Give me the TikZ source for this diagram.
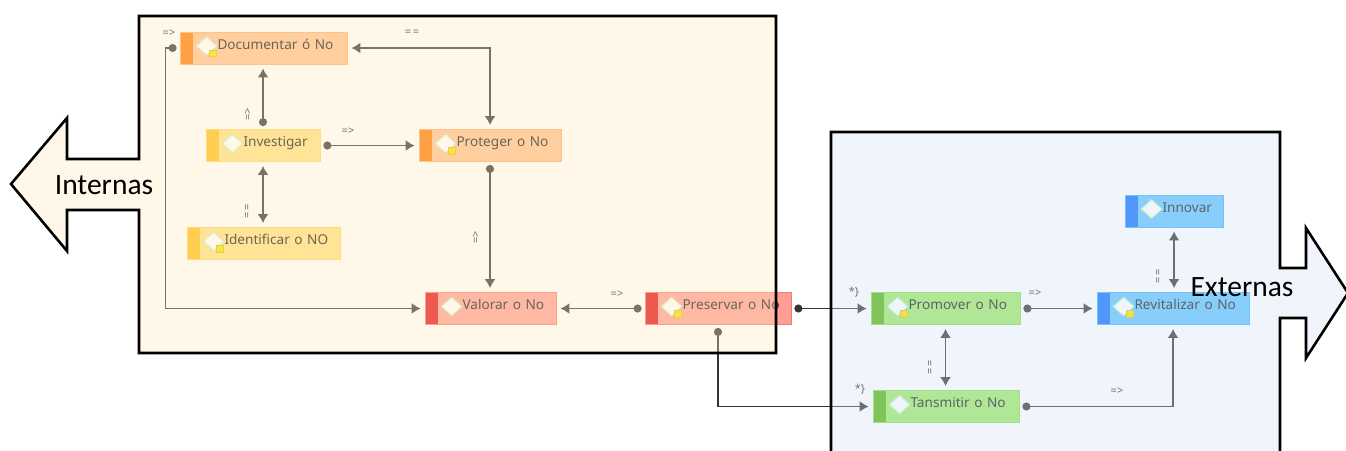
\documentclass[tikz,border=0pt]{standalone}
\usepackage{fontspec}
\setmainfont{Carlito}
\newfontfamily\boxfont{Noto Sans}
\usetikzlibrary{arrows.meta,shapes.geometric}
\definecolor{orstripe}{HTML}{FF7804}
\definecolor{orfill}{HTML}{FFC08E}
\definecolor{yestripe}{HTML}{FFBD13}
\definecolor{yefill}{HTML}{FFE07F}
\definecolor{restripe}{HTML}{E10C13}
\definecolor{refill}{HTML}{FF9E95}
\definecolor{grstripe}{HTML}{50B409}
\definecolor{grfill}{HTML}{9DEA65}
\definecolor{blstripe}{HTML}{0B6FFF}
\definecolor{blfill}{HTML}{5FC3FF}
\definecolor{inpanel}{RGB}{255,235,193}
\definecolor{expanel}{RGB}{212,228,243}
\definecolor{linkgray}{HTML}{333333}
\definecolor{boxtext}{HTML}{1E1E1E}
\tikzset{
  procbox/.style n args={3}{draw=#3!75!#2,fill=#3,line width=0.8pt,text width=#1pt,minimum height=32pt,
    inner xsep=0pt,inner ysep=0pt,text height=9pt,text depth=7pt,align=left,text=boxtext,
    font=\boxfont\fontsize{13.6}{15}\selectfont,
    execute at begin node={\hspace*{37.5pt}},
    path picture={\fill[#2] (path picture bounding box.north west) rectangle ([xshift=13pt]path picture bounding box.south west);}},
  procicon/.style={diamond,draw=black!20!green!25!white,fill=white,line width=1pt,minimum width=21pt,minimum height=19pt,inner sep=0pt},
  link/.style={line width=1.7pt,linkgray,shorten <=3pt,shorten >=4pt},
  both/.style={link,shorten <=4pt,{Latex[length=9pt,width=11pt]}-{Latex[length=9pt,width=11pt]}},
  dotted link/.style={link,{Circle[length=8pt]}-{Latex[length=9pt,width=11pt]}},
  rellabel/.style={inner sep=0pt,text=linkgray,font=\boxfont\fontsize{11}{12}\selectfont},
  panel/.style={draw=black,line width=2.6pt,fill opacity=0.35,miter limit=10},
  sidelabel/.style={inner sep=0pt,font=\fontsize{29.5}{33}\selectfont}
}
\begin{document}
\begin{tikzpicture}[x=1pt,y=-1pt]
\clip (0,0) rectangle (1346,450);
\fill[white] (0,0) rectangle (1346,450);

%cases
\node[procbox={167}{orstripe}{orfill}] (doc) at (263.5,48) {Documentar ó No};
\node[procbox={114}{yestripe}{yefill}] (inv) at (263,145.5) {Investigar};
\node[procbox={142}{orstripe}{orfill}] (prot) at (490,145.5) {Proteger o No};
\node[procbox={153}{yestripe}{yefill}] (ident) at (263.5,243.5) {Identificar o NO};
\node[procbox={131}{restripe}{refill}] (val) at (490.5,308.5) {Valorar o No};
\node[procbox={146}{restripe}{refill}] (pres) at (718,308.5) {Preservar o No};
\node[procbox={149}{grstripe}{grfill}] (prom) at (945.5,308.5) {Promover o No};
\node[procbox={146}{grstripe}{grfill}] (tans) at (946,406.5) {Tansmitir o No};
\node[procbox={152}{blstripe}{blfill}] (rev) at (1173,308.5) {Revitalizar o No};
\node[procbox={98}{blstripe}{blfill}] (innov) at (1174,211) {Innovar};

%losanges et petits drapeaux
\foreach \n in {doc,inv,prot,ident,val,pres,prom,tans,rev,innov}
  \node[procicon] (icon\n) at ([shift={(27,-2)}]\n.west) {};
\foreach \n in {doc,prot,ident,pres,prom,rev}
  \filldraw[fill=yellow!80!orange,draw=yellow!60!olive,line width=0.6pt] ([shift={(30,2)}]\n.west) rectangle ++(6.5,6.5);

%liens
\draw[dotted link] (inv.north) -- (inv.north|-doc.south);
\draw[both] (inv.south) -- (inv.south|-ident.north);
\draw[dotted link] (inv.east) -- (prot.west);
\draw[both] (doc.east) -| (prot.north);
\draw[dotted link] (prot.south) -- (prot.south|-val.north);
\draw[dotted link] (doc.west) -- ++(-14,0) |- (val.west);
\draw[dotted link] (pres.west) -- (val.east);
\draw[dotted link] (pres.east) -- (prom.west);
\draw[dotted link] (pres.south) |- (tans.west);
\draw[both] (prom.south) -- (prom.south|-tans.north);
\draw[dotted link] (prom.east) -- (rev.west);
\draw[dotted link] (tans.east) -| (rev.south);
\draw[both] (innov.south) -- (innov.south|-rev.north);

%petits symboles
\node[rellabel] (symdoc) at (169,33) {=>};
\node[rellabel] (symprot) at (412,33) {=\,=};
\node[rellabel,rotate=90] (syminv) at (248,114) {=>};
\node[rellabel] (syminvprot) at (348,131) {=>};
\node[rellabel,rotate=90] (symident) at (248,211) {=\,=};
\node[rellabel,rotate=90] (symval) at (476,237) {=>};
\node[rellabel] (sympres) at (617,294) {=>};
\node[rellabel] (stprom) at (854,292) {*\}};
\node[rellabel] (sttans) at (860,389) {*\}};
\node[rellabel] (symprom) at (1035,293) {=>};
\node[rellabel,rotate=90] (symtans) at (931,367) {=\,=};
\node[rellabel] (symrev) at (1117,391) {=>};
\node[rellabel,rotate=90] (syminnov) at (1159,276) {=\,=};

%cadres et grandes fleches
\draw[panel,fill=inpanel] (139,16) -- (776,16) -- (776,353) -- (139,353) -- (139,210) -- (67,210) -- (67,251)
  -- (11,184) -- (67,118) -- (67,159) -- (139,159) -- cycle;
\draw[panel,fill=expanel] (831,132) -- (1280,132) -- (1280,268) -- (1306,268) -- (1306,228) -- (1348,293)
  -- (1306,358) -- (1306,318) -- (1280,318) -- (1280,470) -- (831,470) -- cycle;

\node[sidelabel] (internas) at (104,185) {Internas};
\node[sidelabel] (externas) at (1242,287) {Externas};
\end{tikzpicture}
\end{document}
